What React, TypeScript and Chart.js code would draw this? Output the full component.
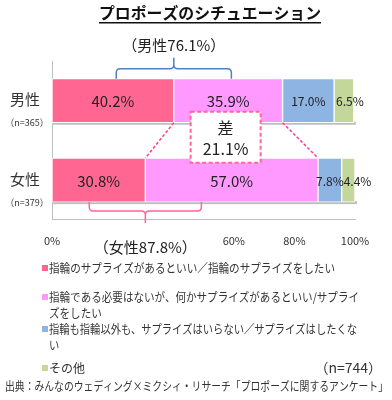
import React, { useEffect, useRef } from "react";
import { Chart, registerables } from "chart.js";

Chart.register(...registerables);

const title = "プロポーズのシチュエーション";
const categories = ["男性", "女性"];
const sampleSizes = ["（n=365）", "（n=379）"];
const seriesLabels = [
  "指輪のサプライズがあるといい／指輪のサプライズをしたい",
  "指輪である必要はないが、何かサプライズがあるといい/サプライズをしたい",
  "指輪も指輪以外も、サプライズはいらない／サプライズはしたくない",
  "その他",
];
const legendLines = [
  ["指輪のサプライズがあるといい／指輪のサプライズをしたい"],
  ["指輪である必要はないが、何かサプライズがあるといい/サプライ", "ズをしたい"],
  ["指輪も指輪以外も、サプライズはいらない／サプライズはしたくな", "い"],
  ["その他"],
];
const ringSurprise = [40.2, 30.8];
const anySurprise = [35.9, 57.0];
const noSurprise = [17.0, 7.8];
const otherAnswer = [6.5, 4.4];
const seriesColors = ["#FF6692", "#FF99FF", "#8DB4E2", "#C4D79B"];
const xTickValues = [0, 60, 80, 100];
const totalLabels = ["（男性76.1%）", "（女性87.8%）"];
const diffLabel = ["差", "21.1%"];
const totalNote = "（n=744）";
const sourceNote = "出典：みんなのウェディング×ミクシィ・リサーチ「プロポーズに関するアンケート」";

const FONT = "'Noto Sans CJK JP', 'Noto Sans', sans-serif";

const overlayPlugin = {
  id: "overlay",
  beforeDatasetsDraw(chart: any) {
    const ctx = chart.ctx;
    const last = chart.getDatasetMeta(3);
    const first = chart.getDatasetMeta(0);
    ctx.save();
    ctx.fillStyle = "#BDBDBD";
    for (let i = 0; i < categories.length; i++) {
      const b0 = first.data[i];
      const bl = last.data[i];
      const h = b0.height;
      ctx.fillRect(b0.base + 1, b0.y + h / 2 - 1, bl.x - b0.base + 1, 3);
    }
    ctx.restore();
  },
  afterDatasetsDraw(chart: any) {
    const ctx = chart.ctx;
    const xs = chart.scales.x;
    ctx.save();
    // data labels
    const big = [true, true, false, false];
    chart.data.datasets.forEach((ds: any, di: number) => {
      const meta = chart.getDatasetMeta(di);
      meta.data.forEach((bar: any, i: number) => {
        const v = ds.data[i];
        ctx.fillStyle = "#222";
        ctx.textBaseline = "middle";
        ctx.font = `${big[di] ? 15 : 12}px ${FONT}`;
        const txt = v.toFixed(1) + "%";
        if (di === 3) {
          ctx.textAlign = "left";
          ctx.fillText(txt, bar.base + 2, bar.y + 1);
        } else {
          ctx.textAlign = "center";
          ctx.fillText(txt, (bar.base + bar.x) / 2, bar.y + 1);
        }
      });
    });

    const m0 = chart.getDatasetMeta(0);
    const m1 = chart.getDatasetMeta(1);
    const h = m0.data[0].height;
    const maleBottom = m0.data[0].y + h / 2;
    const femaleTop = m0.data[1].y - h / 2;
    const maleTop = m0.data[0].y - h / 2;
    const femaleBottom = m0.data[1].y + h / 2;

    // dashed connectors
    ctx.strokeStyle = "#FF3C8C";
    ctx.lineWidth = 1.5;
    ctx.setLineDash([3, 2]);
    ctx.beginPath();
    ctx.moveTo(m0.data[0].x, maleBottom);
    ctx.lineTo(m0.data[1].x, femaleTop);
    ctx.moveTo(m1.data[0].x, maleBottom);
    ctx.lineTo(m1.data[1].x, femaleTop);
    ctx.stroke();

    // diff box
    const bx = xs.getPixelForValue(57.3);
    const bw = 70, bh = 51;
    const top = maleBottom - 11;
    ctx.setLineDash([4, 2.5]);
    ctx.lineWidth = 2;
    ctx.strokeStyle = "#FF6699";
    ctx.fillStyle = "#FFFFFF";
    ctx.fillRect(bx - bw / 2, top, bw, bh);
    ctx.strokeRect(bx - bw / 2, top, bw, bh);
    ctx.setLineDash([]);
    ctx.fillStyle = "#222";
    ctx.textAlign = "center";
    ctx.textBaseline = "middle";
    ctx.font = `16px ${FONT}`;
    ctx.fillText(diffLabel[0], bx, top + 16);
    ctx.fillText(diffLabel[1], bx, top + 37);

    // brackets
    const bracket = (cx: number, half: number, yEnd: number, yMid: number, yTip: number, color: string) => {
      const l = xs.getPixelForValue(cx - half);
      const r = xs.getPixelForValue(cx + half);
      const c = xs.getPixelForValue(cx);
      const s = yMid > yEnd ? 1 : -1;
      const rad = 4;
      ctx.strokeStyle = color;
      ctx.lineWidth = 1.5;
      ctx.beginPath();
      ctx.moveTo(l, yEnd);
      ctx.lineTo(l, yMid - s * rad);
      ctx.quadraticCurveTo(l, yMid, l + rad, yMid);
      ctx.lineTo(c - rad, yMid);
      ctx.quadraticCurveTo(c, yMid, c, yMid + s * rad);
      ctx.lineTo(c, yTip);
      ctx.moveTo(c, yMid + s * rad);
      ctx.quadraticCurveTo(c, yMid, c + rad, yMid);
      ctx.lineTo(r - rad, yMid);
      ctx.quadraticCurveTo(r, yMid, r, yMid - s * rad);
      ctx.lineTo(r, yEnd);
      ctx.stroke();
    };
    bracket(ringSurprise[0], 19, maleTop, maleTop - 10, maleTop - 21, "#4F81BD");
    bracket(ringSurprise[1], 18.5, femaleBottom, femaleBottom + 9, femaleBottom + 21, "#FF6699");

    ctx.fillStyle = "#222";
    ctx.font = `15px ${FONT}`;
    ctx.textAlign = "center";
    ctx.fillText(totalLabels[0], xs.getPixelForValue(ringSurprise[0]), maleTop - 33, 104);
    ctx.fillText(totalLabels[1], xs.getPixelForValue(ringSurprise[1]), femaleBottom + 45, 104);

    // category labels
    const ys = chart.scales.y;
    categories.forEach((c, i) => {
      const cy = ys.getPixelForValue(i);
      ctx.font = `15px ${FONT}`;
      ctx.fillStyle = "#333";
      ctx.textAlign = "center";
      ctx.fillText(c, 25, cy - 1);
      ctx.font = `9px ${FONT}`;
      ctx.fillText(sampleSizes[i], 27, cy + 22);
    });

    // title
    ctx.font = `bold 16px ${FONT}`;
    ctx.fillStyle = "#111";
    ctx.textAlign = "center";
    const tw = Math.min(ctx.measureText(title).width, 222);
    ctx.fillText(title, 210, 13, 222);
    ctx.fillRect(210 - tw / 2, 22, tw, 1.5);

    // legend
    ctx.textAlign = "left";
    ctx.font = `12px ${FONT}`;
    const rows = [268, 297, 329, 368];
    const maxW = [286, 310, 308, 40];
    legendLines.forEach((lines, i) => {
      ctx.fillStyle = seriesColors[i];
      ctx.fillRect(42, rows[i] - 3, 6, 6);
      ctx.fillStyle = "#333";
      lines.forEach((ln, k) => {
        const w = ctx.measureText(ln).width;
        ctx.fillText(ln, 49, rows[i] + k * 16, k === 0 ? Math.min(w, maxW[i]) : w * (maxW[i] / Math.max(maxW[i], ctx.measureText(lines[0]).width)));
      });
    });
    ctx.font = `14px ${FONT}`;
    ctx.textAlign = "right";
    ctx.fillText(totalNote, 382, 368);
    ctx.textAlign = "left";
    ctx.font = `12px ${FONT}`;
    ctx.fillText(sourceNote, 5, 386, 383);
    ctx.restore();
  },
};

export default function App() {
  const ref = useRef<HTMLCanvasElement | null>(null);
  useEffect(() => {
    if (!ref.current) return;
    const series = [ringSurprise, anySurprise, noSurprise, otherAnswer];
    const chart = new Chart(ref.current, {
      type: "bar",
      data: {
        labels: categories,
        datasets: series.map((d, i) => ({
          label: seriesLabels[i],
          data: d,
          backgroundColor: seriesColors[i],
          borderColor: "#FFFFFF",
          borderWidth: 1,
          borderSkipped: false,
          barThickness: 44,
        })),
      },
      options: {
        indexAxis: "y",
        responsive: false,
        animation: false,
        layout: { padding: { left: 44, right: 37, top: 61, bottom: 147 } },
        plugins: { legend: { display: false }, tooltip: { enabled: false }, title: { display: false } },
        scales: {
          x: {
            stacked: true,
            min: 0,
            max: 100,
            grid: { display: false },
            border: { display: true, color: "#BFBFBF", width: 1 },
            ticks: {
              stepSize: 20,
              padding: 6,
              color: "#333",
              font: { size: 11, family: FONT },
              callback: (v: any) => (xTickValues.includes(Number(v)) ? v + "%" : ""),
            },
          },
          y: {
            stacked: true,
            grid: { display: false },
            border: { display: true, color: "#BFBFBF", width: 1 },
            ticks: { display: false },
          },
        },
      },
      plugins: [overlayPlugin],
    } as any);
    return () => chart.destroy();
  }, []);
  return (
    <div style={{ position: "fixed", left: 0, top: 0, width: 392, height: 400, background: "#fff" }}>
      <canvas ref={ref} width={392} height={400} style={{ display: "block" }} />
    </div>
  );
}
